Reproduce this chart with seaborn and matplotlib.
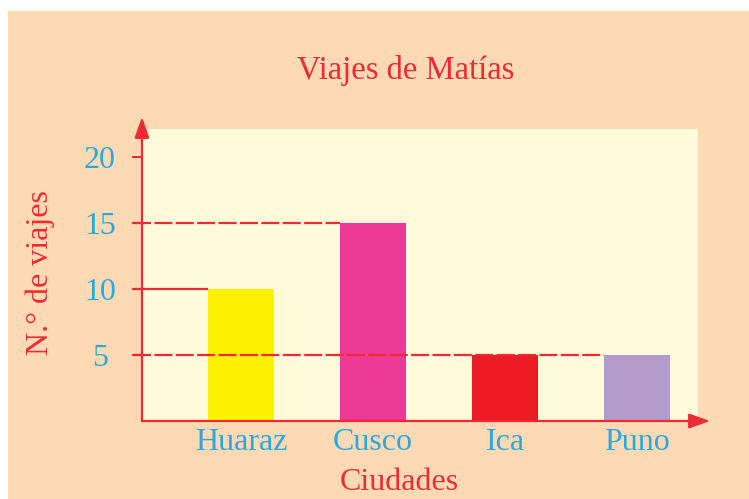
import matplotlib
matplotlib.use("Agg")
import matplotlib.pyplot as plt
from matplotlib.patches import Rectangle
import seaborn as sns
import pandas as pd

# ---- data ----
cities = ["Huaraz", "Cusco", "Ica", "Puno"]
trips = [10, 15, 5, 5]
bar_colors = ["#FFF200", "#EC3A96", "#ED1C24", "#B39CCB"]
yticks = [5, 10, 15, 20]
ref_styles = {15: "dashed", 10: "solid", 5: "dashed"}
title = "Viajes de Matías"
xlabel = "Ciudades"
ylabel = "N.° de viajes"

RED = "#EE2A34"
BLUE = "#2AA8DF"
PEACH = "#FDDAB4"
CREAM = "#FFFADA"
FS = 23

sns.set_style("white")
plt.rcParams["font.family"] = ["Liberation Serif", "DejaVu Serif"]
plt.rcParams["lines.scale_dashes"] = False

W, H = 749, 499
fig = plt.figure(figsize=(W / 100, H / 100), dpi=100, facecolor="white")
fig.patches.append(Rectangle((8 / W, 0), 1, (H - 11) / H, transform=fig.transFigure,
                             facecolor=PEACH, edgecolor="none", zorder=-10))

ax = fig.add_axes([142 / W, (H - 421) / H, (710 - 142) / W, (421 - 117) / H])
ax.set_facecolor("none")

df = pd.DataFrame({"city": cities, "trips": trips})
sns.barplot(data=df, x="city", y="trips", hue="city", palette=bar_colors,
            width=0.5, legend=False, ax=ax, saturation=1, zorder=3,
            edgecolor="none")

px_per_cat = 132.0
x0 = -(241 - 142) / px_per_cat
x1 = 3 + (710 - 637.5) / px_per_cat
y_top = (421 - 117) / 13.2
ax.set_xlim(x0, x1)
ax.set_ylim(0, y_top)

# cream plotting background
ax.add_patch(Rectangle((x0, 0), 3 + (698 - 637.5) / px_per_cat - x0,
                       (421 - 129) / 13.2, facecolor=CREAM, edgecolor="none", zorder=0))

# reference lines from the axis to the bar reaching each level
x_start = x0 - 9 / px_per_cat
for level, style in ref_styles.items():
    idx = max(i for i, v in enumerate(trips) if v == level)
    x_end = idx - 0.25
    kw = dict(color=RED, lw=1.6, zorder=4, clip_on=False, solid_capstyle="butt")
    if style == "dashed":
        ax.plot([x_start, x_end], [level, level], dashes=(13, 2.4), dash_capstyle="butt", **kw)
    else:
        ax.plot([x_start, x_end], [level, level], **kw)

# axes with arrows
for s in ax.spines.values():
    s.set_visible(False)
arrow = dict(arrowstyle="-|>,head_length=0.9,head_width=0.32", color=RED, lw=1.6,
             shrinkA=0, shrinkB=0, mutation_scale=14)
ax.annotate("", xy=(0, 1), xytext=(0, 0), xycoords="axes fraction",
            arrowprops=arrow, zorder=5, annotation_clip=False)
ax.annotate("", xy=(1, 0), xytext=(0, 0), xycoords="axes fraction",
            arrowprops=arrow, zorder=5, annotation_clip=False)

ax.set_yticks(yticks)
ax.set_yticklabels([str(t) for t in yticks], ha="center")
ax.tick_params(axis="y", length=7.2, width=1.5, color=RED, labelcolor=BLUE,
               labelsize=FS, pad=23, direction="out", left=True)
ax.tick_params(axis="x", length=0, labelcolor=BLUE, labelsize=FS, pad=5)
ax.set_xlabel("")
ax.set_ylabel("")
ax.grid(False)

fig.text(406 / W, (H - 79) / H, title, ha="center", va="baseline",
         color=RED, fontsize=FS + 0.5)
fig.text(399 / W, (H - 490) / H, xlabel, ha="center", va="baseline",
         color=RED, fontsize=FS)
fig.text(40 / W, (H - 273) / H, ylabel, ha="center", va="center", rotation=90,
         color=RED, fontsize=FS)

fig.savefig("out.png", dpi=100, facecolor="white")
